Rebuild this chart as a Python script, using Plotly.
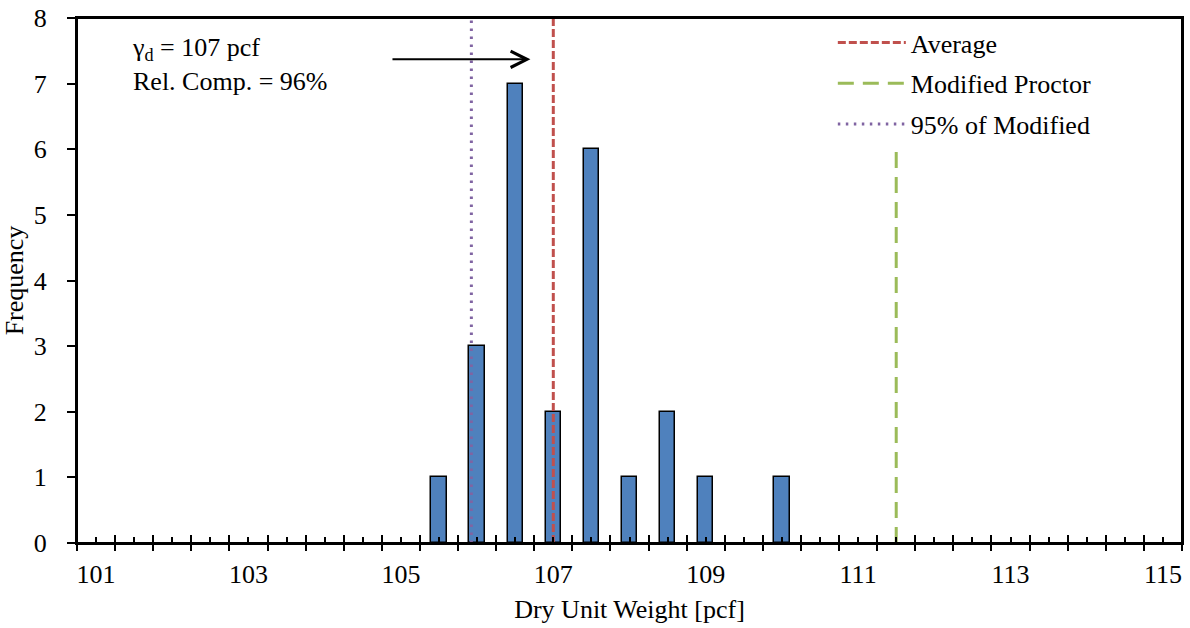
import plotly.graph_objects as go

# ---- data ----
bin_centers = [105.5, 106.0, 106.5, 107.0, 107.5, 108.0, 108.5, 109.0, 110.0]
frequency = [1, 3, 7, 2, 6, 1, 2, 1, 1]
average_gd = 107.0
modified_proctor = 111.5
pct95_modified = 105.925
tick_labels = [101, 103, 105, 107, 109, 111, 113, 115]
annot_text = "γ<sub>d</sub> = 107 pcf<br>Rel. Comp. = 96%"

FONT = "Liberation Serif, Times New Roman, serif"
FS = 26
XR = [100.75, 115.25]
YR = [0, 8]

fig = go.Figure()

fig.add_trace(go.Bar(
    x=bin_centers, y=frequency, width=0.2,
    marker=dict(color="#4F81BD", line=dict(color="black", width=1.5)),
    showlegend=False, hoverinfo="skip",
))

fig.add_trace(go.Scatter(
    x=[average_gd, average_gd], y=YR, mode="lines", name="Average", legendgroup="a",
    line=dict(color="#C0504D", width=3, dash="8px,3px"),
))
fig.add_trace(go.Scatter(
    x=[modified_proctor, modified_proctor], y=YR, mode="lines", name="Modified Proctor",
    legendgroup="b",
    line=dict(color="#9BBB59", width=3, dash="16px,9px"),
))
fig.add_trace(go.Scatter(
    x=[pct95_modified, pct95_modified], y=YR, mode="lines", name="95% of Modified",
    legendgroup="c",
    line=dict(color="#8064A2", width=3, dash="2.5px,5.5px"),
))

# invisible traces so the tick-only overlay axes get drawn
for ax in ["x2", "x3", "x4"]:
    fig.add_trace(go.Scatter(
        x=[XR[0]], y=[YR[0]], xaxis=ax, yaxis="y", mode="markers",
        marker=dict(opacity=0), showlegend=False, hoverinfo="skip",
    ))

tick_axis = dict(
    overlaying="x", anchor="y", side="bottom", range=XR,
    tickmode="linear", dtick=0.5, tickwidth=2, tickcolor="black",
    showticklabels=False, showgrid=False, zeroline=False, showline=False,
    automargin=False, fixedrange=True,
)

fig.update_layout(
    width=1190, height=628,
    margin=dict(l=77, r=8, t=18, b=85),
    plot_bgcolor="white", paper_bgcolor="white",
    font=dict(family=FONT, size=FS, color="black"),
    bargap=0,
    xaxis=dict(
        range=XR, tickmode="array", tickvals=tick_labels,
        ticktext=[str(t) for t in tick_labels], ticks="", ticklen=0,
        ticklabelstandoff=7,
        tickfont=dict(size=FS), showgrid=False, zeroline=False,
        showline=True, linecolor="black", linewidth=2, mirror=True,
        automargin=False,
        title=dict(text="Dry Unit Weight [pcf]", font=dict(size=FS), standoff=12),
    ),
    xaxis2=dict(tick0=100.75, ticks="outside", ticklen=7, **tick_axis),
    xaxis3=dict(tick0=100.75, ticks="inside", ticklen=8, **tick_axis),
    xaxis4=dict(tick0=101.0, ticks="inside", ticklen=6, **tick_axis),
    yaxis=dict(
        range=YR, tickmode="linear", tick0=0, dtick=1, ticks="outside", ticklen=8,
        tickwidth=2, tickcolor="black", tickfont=dict(size=FS),
        ticklabelstandoff=15,
        showgrid=False, zeroline=False, automargin=False,
        showline=True, linecolor="black", linewidth=2, mirror=True,
        title=dict(text="Frequency", font=dict(size=FS), standoff=4),
    ),
    legend=dict(
        x=0.684, y=0.998, xanchor="left", yanchor="top",
        bgcolor="white", borderwidth=0, font=dict(size=FS),
        itemwidth=68, tracegroupgap=4,
    ),
    shapes=[
        dict(type="rect", xref="paper", yref="paper", x0=0, x1=1, y0=0, y1=1,
             line=dict(color="black", width=2), fillcolor="rgba(0,0,0,0)",
             layer="above"),
    ],
    annotations=[
        dict(x=101.44, y=7.80, xref="x", yref="y", text=annot_text,
             showarrow=False, xanchor="left", yanchor="top", align="left",
             font=dict(size=FS, family=FONT)),
        dict(x=106.70, y=7.37, ax=104.87, ay=7.37, xref="x", yref="y",
             axref="x", ayref="y", text="", showarrow=True,
             arrowhead=5, arrowsize=1.6, arrowwidth=2, arrowcolor="black"),
    ],
)

fig.write_html("out.html", config={"displayModeBar": False},
               post_script="document.body.style.margin='0';")
